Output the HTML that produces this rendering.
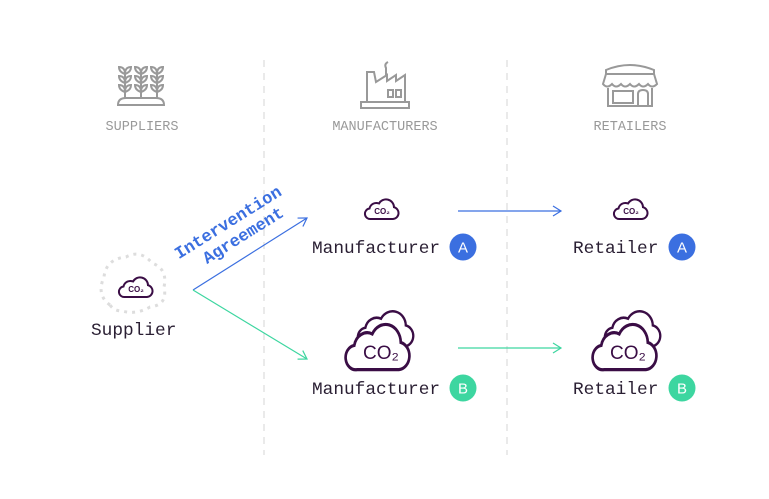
<!DOCTYPE html>
<html><head><meta charset="utf-8"><style>
html,body{margin:0;padding:0;background:#fff;}
body{width:769px;height:499px;overflow:hidden;position:relative;font-family:"Liberation Mono",monospace;}
</style></head><body>
<svg width="769" height="499" viewBox="0 0 769 499" xmlns="http://www.w3.org/2000/svg" style="position:absolute;left:0;top:0">
<defs>
<path id="cl" d="M9,22 H31 A6,6 0 0 0 32,10.2 A8,8 0 0 0 17,6.5 A7,7 0 0 0 7.5,11.5 A5.3,5.3 0 0 0 9,22 Z"/>
<marker id="ab" markerWidth="12" markerHeight="12" refX="10" refY="6" orient="auto" markerUnits="userSpaceOnUse"><path d="M2,1 L10,6 L2,11" fill="none" stroke="#3b6fe0" stroke-width="1.2"/></marker>
<marker id="ag" markerWidth="12" markerHeight="12" refX="10" refY="6" orient="auto" markerUnits="userSpaceOnUse"><path d="M2,1 L10,6 L2,11" fill="none" stroke="#3dd6a0" stroke-width="1.2"/></marker>
</defs>
<line x1="264" y1="60" x2="264" y2="455" stroke="#ddd" stroke-width="1.2" stroke-dasharray="7,6"/>
<line x1="507" y1="60" x2="507" y2="455" stroke="#ddd" stroke-width="1.2" stroke-dasharray="7,6"/>
<g stroke="#999" stroke-width="2" fill="none">
<path d="M118,105 Q118,98 126,98 H156 Q164,98 164,105 Z"/>
<line x1="125" y1="70" x2="125" y2="99"/><line x1="141" y1="70" x2="141" y2="99"/><line x1="157" y1="70" x2="157" y2="99"/>
<g id="lv"><path d="M125,74 q-6,-2 -6,-7 q6,0 6,7 q6,-2 6,-7 q-6,0 -6,7"/><path d="M125,83 q-6,-2 -6,-7 q6,0 6,7 q6,-2 6,-7 q-6,0 -6,7"/><path d="M125,92 q-6,-2 -6,-7 q6,0 6,7 q6,-2 6,-7 q-6,0 -6,7"/></g>
<use href="#lv" x="16"/><use href="#lv" x="32"/>
</g>
<g stroke="#999" stroke-width="2" fill="none">
<rect x="361" y="102" width="48" height="6"/>
<path d="M367,102 V72 H374 L376,82 L387,75 V81 L396,75 V81 L405,75 V102"/>
<rect x="388" y="90" width="5" height="7"/><rect x="396" y="90" width="5" height="7"/>
<path d="M386,76 V68 q-2,-4 2,-6"/>
</g>
<g stroke="#999" stroke-width="2" fill="none">
<path d="M606,70 Q630,60 654,70 V74 H606 Z"/>
<path d="M606,74 L603,84 q4,5 9,0 q4,5 9,0 q4,5 9,0 q4,5 9,0 q4,5 9,0 q4,5 9,0 L654,74"/>
<path d="M608,88 V106 H652 V88"/>
<rect x="613" y="91" width="20" height="12"/>
<path d="M638,106 V94 q0,-4 5,-4 q5,0 5,4 V106"/>
</g>
<g font-family="Liberation Mono,monospace" font-size="13.5" fill="#999" text-anchor="middle">
<text x="142" y="130">SUPPLIERS</text><text x="385" y="130">MANUFACTURERS</text><text x="630" y="130">RETAILERS</text>
</g>
<path d="M110,305 q-14,-10 -6,-28 q2,-18 22,-20 q14,-8 26,6 q16,6 12,24 q4,18 -14,20 q-14,8 -28,4 q-8,0 -12,-6z" fill="none" stroke="#ddd" stroke-width="3" stroke-dasharray="3,5"/>
<g transform="translate(116,275) scale(1)"><use href="#cl" fill="#fff" stroke="#3a0d45" stroke-width="2"/></g>
<text x="136" y="292" font-family="Liberation Sans,sans-serif" font-size="8" font-weight="bold" fill="#3a0d45" text-anchor="middle">CO₂</text>
<line x1="193" y1="290" x2="307" y2="218" stroke="#3b6fe0" stroke-width="1.2" marker-end="url(#ab)"/>
<line x1="193" y1="290" x2="307" y2="359" stroke="#3dd6a0" stroke-width="1.2" marker-end="url(#ag)"/>
<line x1="458" y1="211" x2="561" y2="211" stroke="#3b6fe0" stroke-width="1.2" marker-end="url(#ab)"/>
<line x1="458" y1="348" x2="561" y2="348" stroke="#3dd6a0" stroke-width="1.2" marker-end="url(#ag)"/>
<g transform="translate(234,232) rotate(-32)" font-family="Liberation Mono,monospace" font-weight="bold" font-size="17" fill="#3b6fe0" text-anchor="middle">
<text x="0" y="-6">Intervention</text><text x="6" y="13">Agreement</text>
</g>
<g transform="translate(362,197)"><use href="#cl" fill="#fff" stroke="#3a0d45" stroke-width="2"/></g>
<text x="382" y="214" font-family="Liberation Sans,sans-serif" font-size="8" font-weight="bold" fill="#3a0d45" text-anchor="middle">CO₂</text>
<g transform="translate(611,197)"><use href="#cl" fill="#fff" stroke="#3a0d45" stroke-width="2"/></g>
<text x="631" y="214" font-family="Liberation Sans,sans-serif" font-size="8" font-weight="bold" fill="#3a0d45" text-anchor="middle">CO₂</text>
<use href="#cl" fill="#fff" stroke="#3a0d45" stroke-width="1.4" transform="translate(353,307) scale(1.65,1.8)"/>
<use href="#cl" fill="#fff" stroke="#3a0d45" stroke-width="1.4" transform="translate(340,319) scale(1.9,2.3)"/>
<text x="381" y="359" font-family="Liberation Sans,sans-serif" font-size="19" fill="#3a0d45" text-anchor="middle">CO₂</text>
<use href="#cl" fill="#fff" stroke="#3a0d45" stroke-width="1.4" transform="translate(600,307) scale(1.65,1.8)"/>
<use href="#cl" fill="#fff" stroke="#3a0d45" stroke-width="1.4" transform="translate(587,319) scale(1.9,2.3)"/>
<text x="628" y="359" font-family="Liberation Sans,sans-serif" font-size="19" fill="#3a0d45" text-anchor="middle">CO₂</text>
<g font-family="Liberation Mono,monospace" font-size="17.8" fill="#2a1f33">
<text x="91" y="335">Supplier</text>
<text x="312" y="253">Manufacturer</text>
<text x="312" y="394">Manufacturer</text>
<text x="573" y="253">Retailer</text>
<text x="573" y="394">Retailer</text>
</g>
<g font-family="Liberation Sans,sans-serif" font-size="15" fill="#fff" text-anchor="middle">
<circle cx="463" cy="247" r="13.5" fill="#3b6fe0"/><text x="463" y="252.5">A</text>
<circle cx="682" cy="247" r="13.5" fill="#3b6fe0"/><text x="682" y="252.5">A</text>
<circle cx="463" cy="388" r="13.5" fill="#3dd6a0"/><text x="463" y="393.5">B</text>
<circle cx="682" cy="388" r="13.5" fill="#3dd6a0"/><text x="682" y="393.5">B</text>
</g>
</svg>
</body></html>
